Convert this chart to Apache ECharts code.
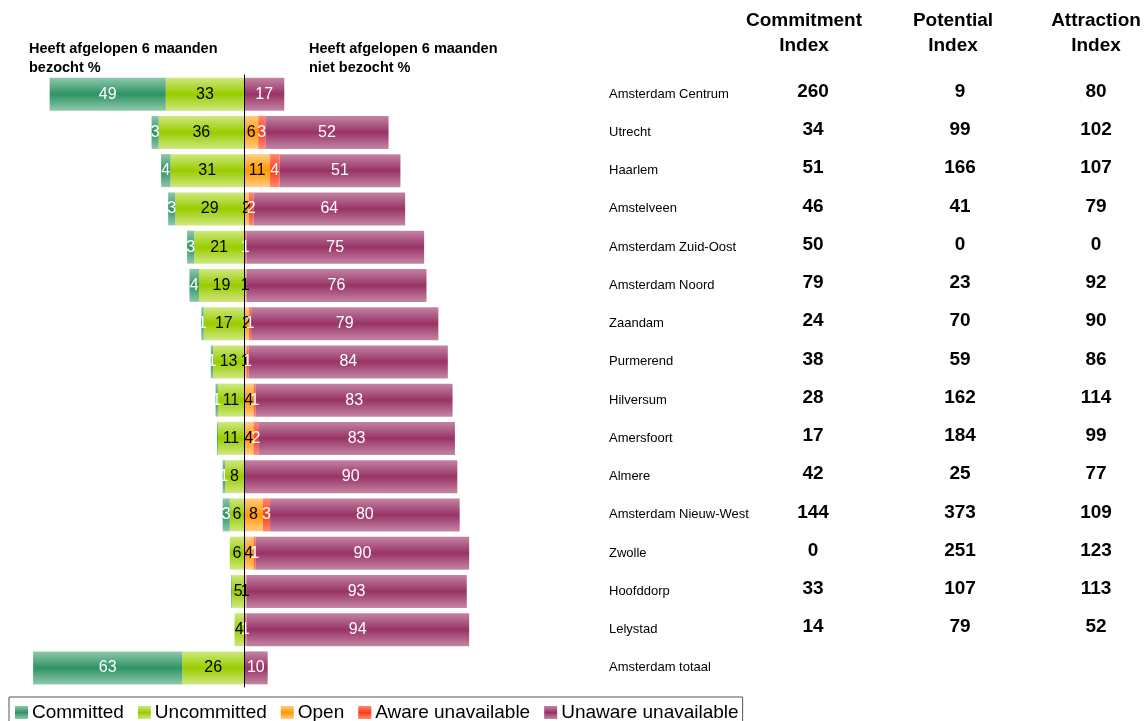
<!DOCTYPE html>
<html>
<head>
<meta charset="utf-8">
<script src="https://cdn.jsdelivr.net/npm/echarts@6/dist/echarts.min.js"></script>
<style>
  html, body { margin: 0; padding: 0; background: #fff; }
  #chart { width: 1144px; height: 721px; }
</style>
</head>
<body>
<div id="chart"></div>
<script>
// Regions, top to bottom
const cities = [
  'Amsterdam Centrum', 'Utrecht', 'Haarlem', 'Amstelveen', 'Amsterdam Zuid-Oost',
  'Amsterdam Noord', 'Zaandam', 'Purmerend', 'Hilversum', 'Amersfoort', 'Almere',
  'Amsterdam Nieuw-West', 'Zwolle', 'Hoofddorp', 'Lelystad', 'Amsterdam totaal'
];

// Visited in the last 6 months (%), drawn to the left of the axis
const committed   = [49, 3, 4, 3, 3, 4, 1, 1, 1, 0.4, 1, 3, 0, 0.4, 0, 63];
const uncommitted = [33, 36, 31, 29, 21, 19, 17, 13, 11, 11, 8, 6, 6, 5, 4, 26];

// Not visited in the last 6 months (%), drawn to the right of the axis
const open               = [0, 6, 11, 2, 0, 1, 2, 1, 4, 4, 0, 8, 4, 1, 0, 0];
const awareUnavailable   = [0, 3, 4, 2, 1, 0, 1, 1, 1, 2, 0, 3, 1, 0, 1, 0];
const unawareUnavailable = [17, 52, 51, 64, 75, 76, 79, 84, 83, 83, 90, 80, 90, 93, 94, 10];

// Index table beside the bars (no values for the total row)
const commitmentIndex = [260, 34, 51, 46, 50, 79, 24, 38, 28, 17, 42, 144, 0, 33, 14, null];
const potentialIndex  = [9, 99, 166, 41, 0, 23, 70, 59, 162, 184, 25, 373, 251, 107, 79, null];
const attractionIndex = [80, 102, 107, 79, 0, 92, 90, 86, 114, 99, 77, 109, 123, 113, 52, null];

const FONT = '"Liberation Sans", Arial, Helvetica, sans-serif';

// Vertical shading: light edges, saturated centre
function shade(edge, mid) {
  return new echarts.graphic.LinearGradient(0, 0, 0, 1, [
    { offset: 0, color: edge },
    { offset: 0.5, color: mid },
    { offset: 1, color: edge }
  ]);
}

function valueLabel(color) {
  return {
    show: true,
    position: 'inside',
    color: color,
    fontFamily: FONT,
    fontSize: 16,
    formatter: p => Math.abs(p.value) >= 0.5 ? String(Math.round(Math.abs(p.value))) : ''
  };
}

function barSeries(name, values, edge, mid, labelColor) {
  return {
    name: name,
    type: 'bar',
    stack: 'share',
    barWidth: 33,
    data: values,
    itemStyle: { color: shade(edge, mid) },
    label: valueLabel(labelColor),
    emphasis: { disabled: true }
  };
}

const negate = arr => arr.map(v => -v);

function tableRow(value, index) {
  const c = commitmentIndex[index], p = potentialIndex[index], a = attractionIndex[index];
  let s = '{n|' + value + '}';
  if (c !== null) s += '{c|' + c + '}{p|' + p + '}{a|' + a + '}';
  return s;
}

const idxStyle = w => ({
  width: w, align: 'center', fontFamily: FONT, fontSize: 19, fontWeight: 'bold',
  color: '#000', padding: [0, 0, 5, 0]
});

const chart = echarts.init(document.getElementById('chart'), null, { renderer: 'canvas' });

chart.setOption({
  animation: false,
  backgroundColor: '#fff',
  grid: { left: 7, width: 474, top: 75, height: 612, outerBoundsMode: 'none', containLabel: false },
  xAxis: { type: 'value', min: -100, max: 100, show: false },
  yAxis: [
    {
      type: 'category', inverse: true, data: cities, z: 10,
      axisLine: { show: true, onZero: true, lineStyle: { color: '#000', width: 1 } },
      axisTick: { show: false }, axisLabel: { show: false }, splitLine: { show: false }
    },
    {
      type: 'category', inverse: true, data: cities, position: 'right',
      axisLine: { show: false }, axisTick: { show: false }, splitLine: { show: false },
      axisLabel: {
        interval: 0, margin: 128, align: 'left',
        formatter: tableRow,
        rich: {
          n: { width: 160, align: 'left', fontFamily: FONT, fontSize: 13, color: '#000' },
          c: idxStyle(88),
          p: idxStyle(206),
          a: idxStyle(66)
        }
      }
    }
  ],
  legend: {
    data: ['Committed', 'Uncommitted', 'Open', 'Aware unavailable', 'Unaware unavailable'],
    left: 9, top: 697,
    padding: [6, 4, 6, 6],
    itemWidth: 13, itemHeight: 13, itemGap: 14,
    borderColor: '#555', borderWidth: 1,
    icon: 'rect',
    selectedMode: false,
    textStyle: { fontFamily: FONT, fontSize: 19, color: '#000', padding: [0, 0, 0, -1] }
  },
  graphic: [
    { type: 'text', x: 29, y: 39, style: { text: 'Heeft afgelopen 6 maanden\nbezocht %', font: 'bold 14.5px ' + FONT, lineHeight: 19, fill: '#000' } },
    { type: 'text', x: 309, y: 39, style: { text: 'Heeft afgelopen 6 maanden\nniet bezocht %', font: 'bold 14.5px ' + FONT, lineHeight: 19, fill: '#000' } },
    { type: 'text', x: 804, y: 8, style: { text: 'Commitment\nIndex', font: 'bold 19px ' + FONT, lineHeight: 25, align: 'center', fill: '#000' } },
    { type: 'text', x: 953, y: 8, style: { text: 'Potential\nIndex', font: 'bold 19px ' + FONT, lineHeight: 25, align: 'center', fill: '#000' } },
    { type: 'text', x: 1096, y: 8, style: { text: 'Attraction\nIndex', font: 'bold 19px ' + FONT, lineHeight: 25, align: 'center', fill: '#000' } }
  ],
  series: [
    barSeries('Uncommitted', negate(uncommitted), '#cfe880', '#99cc00', '#000'),
    barSeries('Committed', negate(committed), '#8fc8ac', '#2e9464', '#fff'),
    barSeries('Open', open, '#ffcd85', '#ff9900', '#000'),
    barSeries('Aware unavailable', awareUnavailable, '#ff8a70', '#ff3a1a', '#fff'),
    barSeries('Unaware unavailable', unawareUnavailable, '#c385a4', '#993366', '#fff')
  ]
});
</script>
</body>
</html>
